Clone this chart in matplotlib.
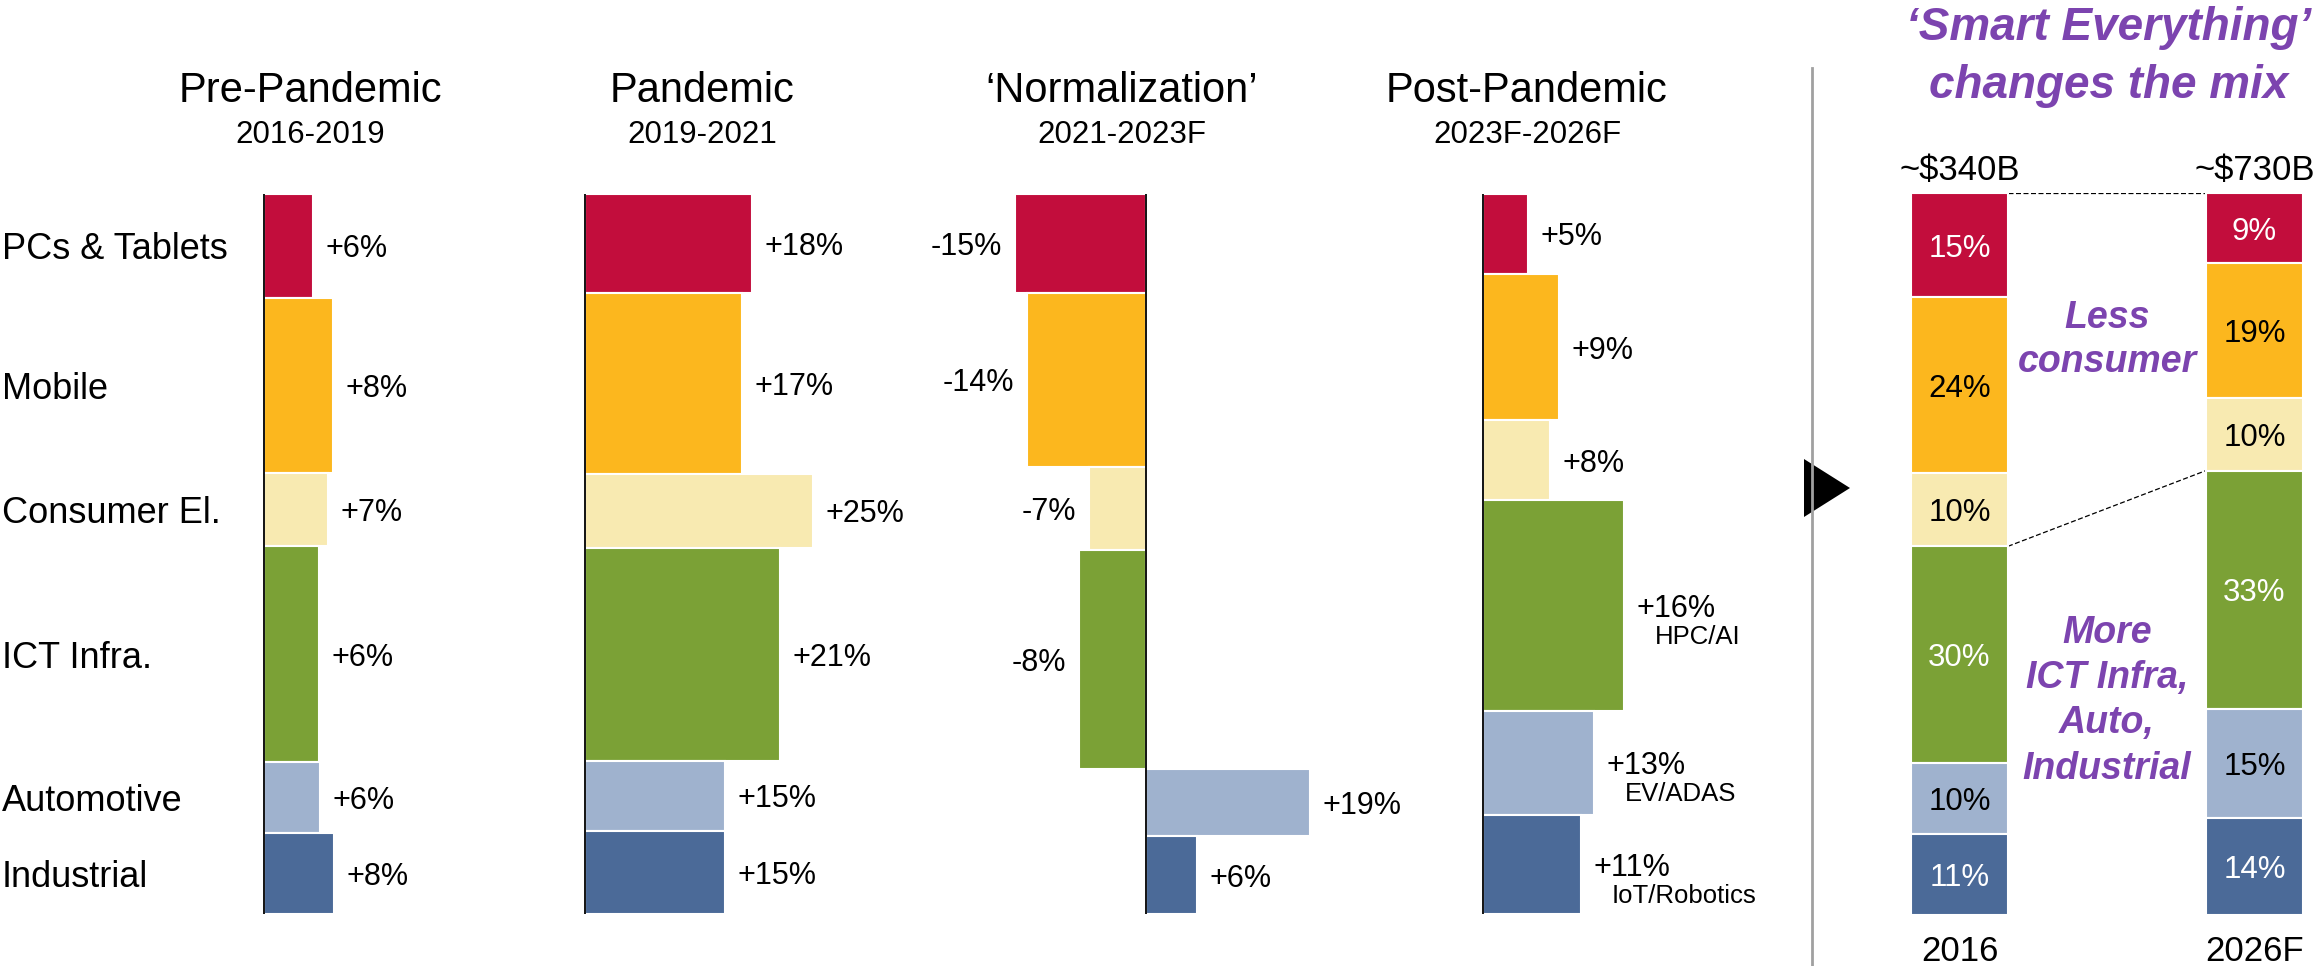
import numpy as np
import matplotlib
matplotlib.use("Agg")
import matplotlib.pyplot as plt
from matplotlib.lines import Line2D
from matplotlib.patches import Polygon
from matplotlib.transforms import blended_transform_factory

plt.rcParams['font.family'] = ['Liberation Sans', 'DejaVu Sans']

# ── data ──
CATEGORIES = ["PCs & Tablets", "Mobile", "Consumer El.", "ICT Infra.", "Automotive", "Industrial"]
COLORS = ["#C20D3C", "#FCB71E", "#F8EAB1", "#7BA136", "#9FB2CE", "#4B6A98"]

PERIOD_TITLES = ["Pre-Pandemic", "Pandemic", "\u2018Normalization\u2019", "Post-Pandemic"]
PERIOD_YEARS = ["2016-2019", "2019-2021", "2021-2023F", "2023F-2026F"]

# market share at start of each period (bar height)
SHARE_2016 = [14.4, 24.4, 10.1, 30.0, 9.9, 11.2]
SHARE_2019 = [13.8, 25.1, 10.2, 29.6, 9.8, 11.5]
SHARE_2021 = [13.7, 24.2, 11.5, 30.5, 9.3, 10.8]
SHARE_2023 = [11.1, 20.3, 11.1, 29.3, 14.4, 13.8]
SHARE_2026 = [9.6, 18.8, 10.0, 33.0, 15.1, 13.5]

# growth (CAGR %) in each period (bar length)
GROWTH_PRE = [5.6, 7.9, 7.3, 6.3, 6.4, 8.0]
GROWTH_PANDEMIC = [18.1, 17.0, 24.7, 21.1, 15.1, 15.1]
GROWTH_NORMAL = [-15.1, -13.7, -6.6, -7.7, 18.9, 5.9]
GROWTH_POST = [5.2, 8.7, 7.7, 16.2, 12.8, 11.3]
POST_DRIVERS = ["", "", "", "HPC/AI", "EV/ADAS", "IoT/Robotics"]

MIX_YEARS = ["2016", "2026F"]
MIX_TOTALS = ["~$340B", "~$730B"]
MIX_LABELS_2016 = [15, 24, 10, 30, 10, 11]
MIX_LABELS_2026 = [9, 19, 10, 33, 15, 14]
MIX_TEXT_COLORS = ["white", "black", "black", "white", "black", "white"]

PURPLE = "#7C44AF"

# ── layout (pixels) ──
W, H = 2323, 966
fig = plt.figure(figsize=(W / 100, H / 100), dpi=100)
fig.patch.set_facecolor("white")


def px_axes(x0, x1, y0, y1):
    ax = fig.add_axes([x0 / W, 1 - y1 / H, (x1 - x0) / W, (y1 - y0) / H])
    ax.patch.set_visible(False)
    ax.axis("off")
    return ax


def fx(x):
    return x / W


def fy(y):
    return 1 - y / H


TOP, BOT = 194, 914
SCALES = [8.7, 9.25, 8.7, 8.7]     # px per % growth (each panel its own chart)
ZEROS = [264, 585, 1146, 1483]
TITLE_X = [310, 702, 1122, 1527]
shares = [SHARE_2016, SHARE_2019, SHARE_2021, SHARE_2023]
growths = [GROWTH_PRE, GROWTH_PANDEMIC, GROWTH_NORMAL, GROWTH_POST]

axes = []
for i in range(4):
    z, s = ZEROS[i], SCALES[i]
    lo, hi = -20, 30
    ax = px_axes(z + lo * s, z + hi * s, TOP, BOT)
    ax.set_xlim(lo, hi)
    sh = np.array(shares[i])
    total = sh.sum()
    ax.set_ylim(total, 0)
    centers = np.cumsum(sh) - sh / 2
    g = np.array(growths[i])
    ax.barh(centers, g, height=sh, left=0, color=COLORS, edgecolor="white", linewidth=1.5, zorder=2)
    ax.plot([0, 0], [0, total], color="black", lw=1.3, zorder=3, solid_capstyle="butt")
    for k, (c, v) in enumerate(zip(centers, g)):
        lab = f"{v:+.0f}%" if v >= 0 else f"-{abs(v):.0f}%"
        off = 9 if v >= 0 else -9
        ax.annotate(lab, (v, c), xytext=(off, 0), textcoords="offset points",
                    ha="left" if v >= 0 else "right", va="center_baseline", fontsize=22)
        if i == 3 and POST_DRIVERS[k]:
            ax.annotate(POST_DRIVERS[k], (v, c), xytext=(22, -21), textcoords="offset points",
                        ha="left", va="center_baseline", fontsize=18.5)
    fig.text(fx(TITLE_X[i]), fy(102), PERIOD_TITLES[i], ha="center", va="baseline", fontsize=30)
    fig.text(fx(TITLE_X[i]), fy(143), PERIOD_YEARS[i], ha="center", va="baseline", fontsize=22.5)
    axes.append(ax)

# category labels, aligned to the first panel
tr = blended_transform_factory(fig.transFigure, axes[0].transData)
cent0 = np.cumsum(SHARE_2016) - np.array(SHARE_2016) / 2
for name, c in zip(CATEGORIES, cent0):
    axes[0].text(fx(2), c, name, transform=tr, ha="left", va="center_baseline", fontsize=26)

# divider + arrow
fig.add_artist(Line2D([fx(1812)] * 2, [fy(68), 0], transform=fig.transFigure, color="#A0A0A0", lw=2))
fig.add_artist(Polygon([(fx(1804), fy(459)), (fx(1804), fy(517)), (fx(1850), fy(488))],
                       closed=True, transform=fig.transFigure, fc="black", ec="none"))

# ── mix bars ──
c0, c1 = 1959.5, 2254.5
unit = c1 - c0
bw = 97 / unit
axm = px_axes(1880, W, 193.5, 915)
axm.set_xlim(-(c0 - 1880) / unit, 1 + (W - c1) / unit)
axm.set_ylim(100, 0)
mix_shares = [SHARE_2016, SHARE_2026]
mix_labels = [MIX_LABELS_2016, MIX_LABELS_2026]
cums = []
for j in range(2):
    sh = np.array(mix_shares[j]) * 100 / np.sum(mix_shares[j])
    bottoms = np.cumsum(sh) - sh
    cums.append(np.cumsum(sh))
    axm.bar(j, sh, width=bw, bottom=bottoms, color=COLORS, edgecolor="white", linewidth=1.5, zorder=2)
    for b, s, lab, tc in zip(bottoms, sh, mix_labels[j], MIX_TEXT_COLORS):
        axm.text(j, b + s / 2, f"{lab}%", ha="center", va="center_baseline", fontsize=22.5, color=tc, zorder=3)
    axm.annotate(MIX_TOTALS[j], (j, 0), xytext=(0, 9.5), textcoords="offset points",
                 ha="center", va="baseline", fontsize=25)
    axm.annotate(MIX_YEARS[j], (j, 100), xytext=(0, -33), textcoords="offset points",
                 ha="center", va="baseline", fontsize=25, annotation_clip=False)

# dashed connectors: top of bars, and end of consumer segments
axm.plot([bw / 2, 1 - bw / 2], [0, 0], ls=(0, (4, 2)), color="black", lw=0.9, zorder=1)
axm.plot([bw / 2, 1 - bw / 2], [cums[0][2], cums[1][2]], ls=(0, (4, 2)), color="black", lw=0.9, zorder=1)

axm.text(0.5, 20.3, "Less\nconsumer", ha="center", va="center", fontsize=27,
         fontweight="bold", fontstyle="italic", color=PURPLE, linespacing=1.3)
axm.text(0.5, 70.3, "More\nICT Infra,\nAuto,\nIndustrial", ha="center", va="center", fontsize=27,
         fontweight="bold", fontstyle="italic", color=PURPLE, linespacing=1.33)

fig.text(fx(2109), fy(40), "\u2018Smart Everything\u2019", ha="center", va="baseline", fontsize=33,
         fontweight="bold", fontstyle="italic", color=PURPLE)
fig.text(fx(2109), fy(98), "changes the mix", ha="center", va="baseline", fontsize=33,
         fontweight="bold", fontstyle="italic", color=PURPLE)

fig.savefig("out.png", dpi=100, facecolor="white")
